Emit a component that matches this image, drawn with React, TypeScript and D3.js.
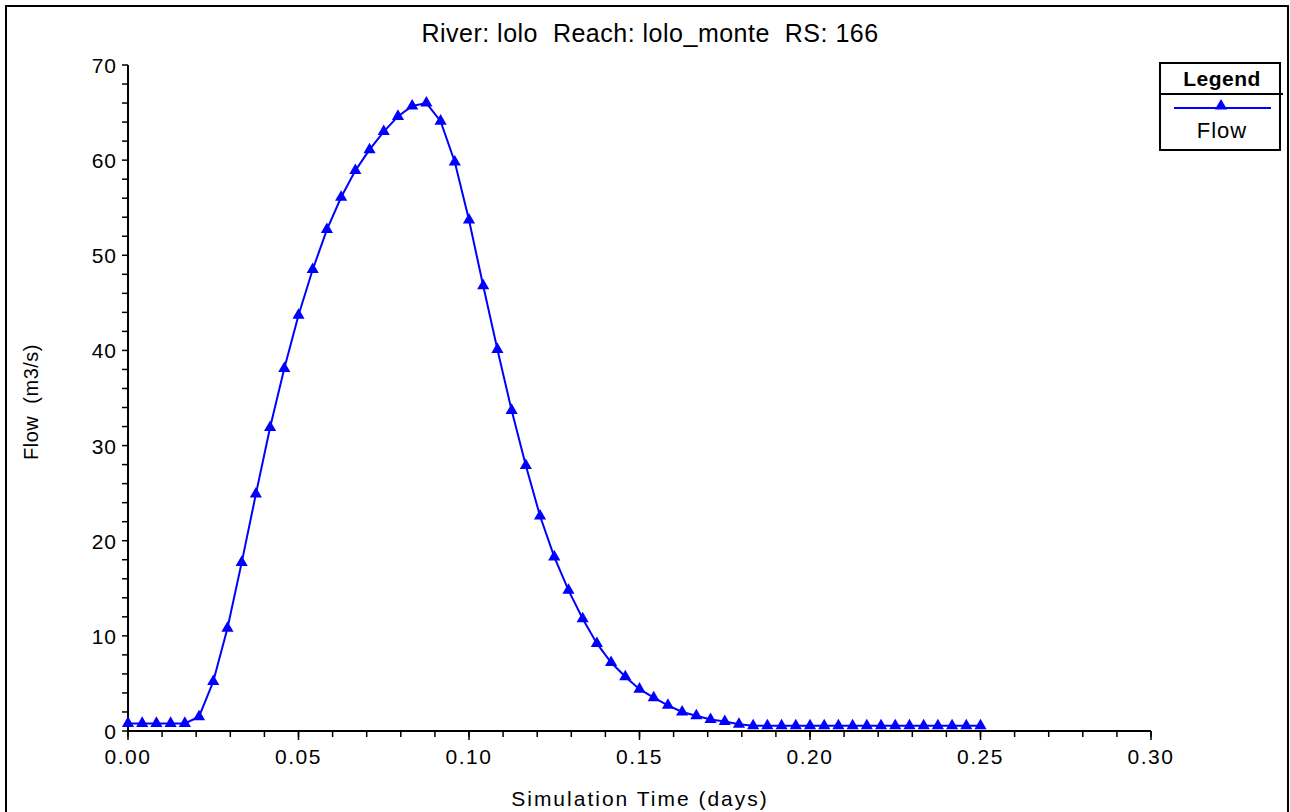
import React from "react";
import * as d3 from "d3";

// flow hydrograph, one point every 6 minutes
const timeMinutes = [
  0, 6, 12, 18, 24, 30, 36, 42, 48, 54, 60, 66, 72, 78, 84, 90, 96, 102, 108,
  114, 120, 126, 132, 138, 144, 150, 156, 162, 168, 174, 180, 186, 192, 198,
  204, 210, 216, 222, 228, 234, 240, 246, 252, 258, 264, 270, 276, 282, 288,
  294, 300, 306, 312, 318, 324, 330, 336, 342, 348, 354, 360,
];
const flowValues = [
  0.8, 0.8, 0.8, 0.8, 0.8, 1.5, 5.2, 10.8, 17.7, 24.9, 31.9, 38.1, 43.7, 48.5,
  52.7, 56.1, 58.9, 61.1, 63.0, 64.6, 65.7, 66.0, 64.1, 59.8, 53.7, 46.8, 40.1,
  33.7, 27.9, 22.6, 18.3, 14.8, 11.8, 9.2, 7.2, 5.7, 4.4, 3.5, 2.7, 2.0, 1.6,
  1.2, 1.0, 0.7, 0.55, 0.55, 0.55, 0.55, 0.55, 0.55, 0.55, 0.55, 0.55, 0.55,
  0.55, 0.55, 0.55, 0.55, 0.55, 0.55, 0.55,
];
const xTickValues = [0, 0.05, 0.1, 0.15, 0.2, 0.25, 0.3];
const xTickLabels = ["0.00", "0.05", "0.10", "0.15", "0.20", "0.25", "0.30"];
const yTickValues = [0, 10, 20, 30, 40, 50, 60, 70];
const yTickLabels = ["0", "10", "20", "30", "40", "50", "60", "70"];

const W = 1290;
const H = 812;
const font = "'Liberation Sans', Arial, sans-serif";
const blue = "#0000ff";

export default function App() {
  const x = d3.scaleLinear().domain([0, 0.3]).range([128, 1151]);
  const y = d3.scaleLinear().domain([0, 70]).range([731, 65]);

  const pts: [number, number][] = timeMinutes.map((m, i) => [
    x(m / 1440),
    y(flowValues[i]),
  ]);
  const line = d3.line();
  const tri = d3.symbol(d3.symbolTriangle, 64)() as string;

  const xMinor = x.ticks(30);
  const yMinor = y.ticks(35);

  return (
    <svg
      width={W}
      height={H}
      style={{ position: "absolute", left: 0, top: 0, background: "#fff" }}
      fontFamily={font}
    >
      <rect x={0} y={0} width={W} height={H} fill="#fff" />
      <rect
        x={6}
        y={6}
        width={1282}
        height={820}
        fill="none"
        stroke="#000"
        strokeWidth={2}
      />

      {/* title */}
      <text
        x={650}
        y={42}
        textAnchor="middle"
        fontSize={25}
        letterSpacing={0.5}
        fill="#000"
        style={{ whiteSpace: "pre" }}
      >
        {"River: lolo  Reach: lolo_monte  RS: 166"}
      </text>

      {/* y axis */}
      <line x1={x(0)} x2={x(0)} y1={y(70)} y2={y(0)} stroke="#000" strokeWidth={2} />
      {yMinor.map((d) => (
        <line
          key={"ym" + d}
          x1={x(0) - 6}
          x2={x(0)}
          y1={y(d)}
          y2={y(d)}
          stroke="#000"
          strokeWidth={1.5}
        />
      ))}
      {yTickValues.map((d, i) => (
        <text
          key={"yl" + d}
          x={117}
          y={y(d) + 8}
          textAnchor="end"
          fontSize={21}
          letterSpacing={1}
          fill="#000"
        >
          {yTickLabels[i]}
        </text>
      ))}

      {/* x axis */}
      <line x1={x(0)} x2={x(0.3)} y1={y(0)} y2={y(0)} stroke="#000" strokeWidth={2} />
      {xMinor.map((d) => (
        <line
          key={"xm" + d}
          x1={x(d)}
          x2={x(d)}
          y1={y(0)}
          y2={y(0) + 6}
          stroke="#000"
          strokeWidth={1.5}
        />
      ))}
      {xTickValues.map((d, i) => (
        <g key={"xl" + d}>
          <line
            x1={x(d)}
            x2={x(d)}
            y1={y(0)}
            y2={y(0) + 9}
            stroke="#000"
            strokeWidth={1.5}
          />
          <text
            x={x(d)}
            y={764}
            textAnchor="middle"
            fontSize={21}
            letterSpacing={1.5}
            fill="#000"
          >
            {xTickLabels[i]}
          </text>
        </g>
      ))}

      {/* axis titles */}
      <text x={640} y={806} textAnchor="middle" fontSize={21} letterSpacing={2} fill="#000">
        Simulation Time (days)
      </text>
      <text
        transform="translate(38,402) rotate(-90)"
        textAnchor="middle"
        fontSize={20}
        letterSpacing={0.5}
        fill="#000"
        style={{ whiteSpace: "pre" }}
      >
        {"Flow  (m3/s)"}
      </text>

      {/* series */}
      <path d={line(pts) ?? ""} fill="none" stroke={blue} strokeWidth={2} />
      {pts.map((p, i) => (
        <path key={"p" + i} d={tri} transform={`translate(${p[0]},${p[1]})`} fill={blue} />
      ))}

      {/* legend */}
      <rect x={1160} y={63} width={120} height={87} fill="#fff" stroke="#000" strokeWidth={2} />
      <line x1={1160} x2={1283} y1={94} y2={94} stroke="#000" strokeWidth={2} />
      <text x={1222} y={86} textAnchor="middle" fontSize={21} fontWeight="bold" letterSpacing={0.5} fill="#000">
        Legend
      </text>
      <line x1={1174} x2={1271} y1={108} y2={108} stroke={blue} strokeWidth={2} />
      <path d={tri} transform="translate(1221,106)" fill={blue} />
      <text x={1222} y={138} textAnchor="middle" fontSize={22} letterSpacing={1} fill="#000">
        Flow
      </text>
    </svg>
  );
}
